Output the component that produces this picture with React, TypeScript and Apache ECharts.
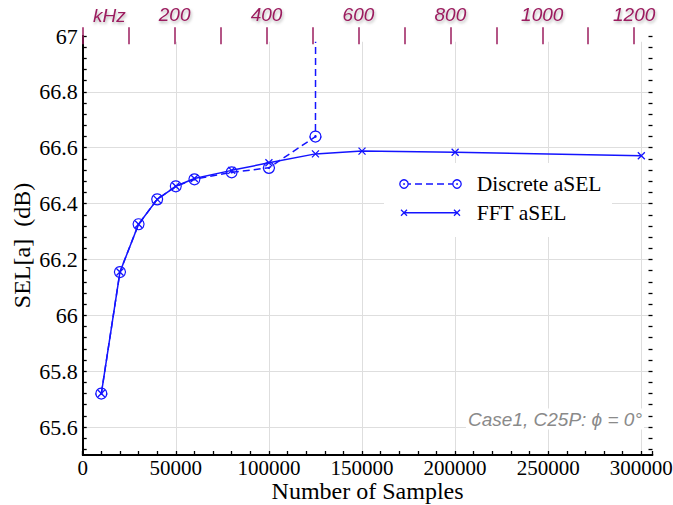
import React, { useEffect, useRef } from "react";
import * as echarts from "echarts";

// ---- data ----
const fftSamples = [10000, 20000, 30000, 40000, 50000, 60000, 80000, 100000, 125000, 150000, 200000, 300000];
const fftSEL = [65.72, 66.155, 66.326, 66.415, 66.462, 66.49, 66.519, 66.546, 66.578, 66.588, 66.584, 66.571];
const discreteSamples = [10000, 20000, 30000, 40000, 50000, 60000, 80000, 100000, 125000, 126000];
const discreteSEL = [65.72, 66.155, 66.326, 66.415, 66.462, 66.487, 66.512, 66.528, 66.64, 72];

const seriesNames = ["Discrete aSEL", "FFT aSEL"];
const xTitle = "Number of Samples";
const yTitle = "SEL[a]  (dB)";
const topUnit = "kHz";
const note = "Case1, C25P: \u03D5 = 0\u00B0";

// axis ranges
const X_MIN = 0;
const X_MAX = 306000;
const X_STEP = 50000;
const X_MINOR = 10000;
const Y_MIN = 65.5;
const Y_MAX = 67;
const Y_LABEL_MIN = 65.6;
const Y_STEP = 0.2;
const Y_TICK_MIN = 65.52;
const Y_TICK_STEP = 0.04;
const KHZ_STEP = 100;
const KHZ_LABEL_STEP = 200;
const KHZ_MAX_SHOWN = 1200;
const SAMPLES_PER_KHZ = 246.8;

// ---- layout ----
const W = 673;
const H = 505;
const G = { left: 82.7, right: 20.5, top: 36, bottom: 50 };
const PX_PER_Y = (H - G.top - G.bottom) / (Y_MAX - Y_MIN);
const PX_PER_X = (W - G.left - G.right) / (X_MAX - X_MIN);
const KHZ_AXIS_MAX = 1300;
const KHZ_GRID_RIGHT = W - G.left - KHZ_AXIS_MAX * SAMPLES_PER_KHZ * PX_PER_X;

const BLUE = "#1414ff";
const MAROON = "#9b1c5e";
const GREY = "#8a8a8a";
const SERIF = "Liberation Serif";
const SANS = "Liberation Sans";

const CIRCLE_DOT = "path://M0,-10A10,10,0,1,1,-0.01,-10Z M0,-1.1A1.1,1.1,0,1,1,-0.01,-1.1Z";
const CROSS = "path://M0,0L10,10M10,0L0,10";

function zip(xs: number[], ys: number[]) {
  return xs.map((x, i) => [x, ys[i]]);
}

function gridBox(extra: Record<string, number>) {
  return { outerBoundsMode: "none", containLabel: false, left: G.left, right: G.right, top: G.top, bottom: G.bottom, ...extra };
}

function buildOption() {
  const legendX1 = 404;
  const legendX2 = 457;
  const row1 = 184;
  const row2 = 212.7;
  const cross = (cx: number, cy: number, s: number) => [
    { type: "line", z: 6, shape: { x1: cx - s, y1: cy - s, x2: cx + s, y2: cy + s }, style: { stroke: BLUE, lineWidth: 1.3 } },
    { type: "line", z: 6, shape: { x1: cx - s, y1: cy + s, x2: cx + s, y2: cy - s }, style: { stroke: BLUE, lineWidth: 1.3 } },
  ];
  const ring = (cx: number, cy: number) => [
    { type: "circle", z: 6, shape: { cx, cy, r: 4.2 }, style: { fill: "#fff", stroke: BLUE, lineWidth: 1.3 } },
    { type: "circle", z: 7, shape: { cx, cy, r: 0.9 }, style: { fill: BLUE } },
  ];

  return {
    animation: false,
    backgroundColor: "#fff",
    textStyle: { fontFamily: SERIF },
    grid: [
      gridBox({}),
      gridBox({ bottom: G.bottom + (Y_LABEL_MIN - Y_MIN) * PX_PER_Y }),
      gridBox({ bottom: G.bottom + (Y_TICK_MIN - Y_MIN) * PX_PER_Y }),
      gridBox({ right: KHZ_GRID_RIGHT, top: 27.3 }),
    ],
    xAxis: [
      {
        gridIndex: 0,
        type: "value",
        position: "bottom",
        min: X_MIN,
        max: X_MAX,
        interval: X_STEP,
        axisLine: { show: true, lineStyle: { color: "#000", width: 1.8 } },
        axisTick: { show: false },
        axisLabel: {
          margin: 2.5,
          color: "#000",
          fontFamily: SERIF,
          fontSize: 21,
          formatter: (v: number) => (v % X_STEP === 0 ? String(v) : ""),
        },
        splitLine: { show: true, showMinLine: false, showMaxLine: false, lineStyle: { color: "#dedede", width: 1 } },
        name: xTitle,
        nameLocation: "middle",
        nameGap: 23.5,
        nameMoveOverlap: false,
        nameTextStyle: { color: "#000", fontFamily: SERIF, fontSize: 24 },
      },
      {
        gridIndex: 0,
        type: "value",
        position: "bottom",
        min: X_MIN,
        max: X_MAX,
        interval: X_MINOR,
        axisLine: { show: false },
        axisTick: { show: true, inside: true, length: 4, lineStyle: { color: "#000", width: 1.3 } },
        axisLabel: { show: false },
        splitLine: { show: false },
      },
      { gridIndex: 1, type: "value", show: false, min: X_MIN, max: X_MAX },
      { gridIndex: 2, type: "value", show: false, min: X_MIN, max: X_MAX },
      {
        gridIndex: 3,
        type: "value",
        position: "top",
        z: 10,
        min: 0,
        max: KHZ_AXIS_MAX,
        interval: KHZ_STEP,
        axisLine: { show: false },
        axisTick: { show: true, inside: true, length: 17, lineStyle: { color: MAROON, width: 1.5 } },
        axisLabel: {
          margin: 3,
          color: MAROON,
          fontFamily: SANS,
          fontStyle: "italic",
          fontSize: 19,
          textShadowColor: "rgba(0,0,0,0.3)",
          textShadowBlur: 3,
          textShadowOffsetX: 1,
          textShadowOffsetY: 2,
          formatter: (v: number) => (v > 0 && v <= KHZ_MAX_SHOWN && v % KHZ_LABEL_STEP === 0 ? String(v) : ""),
        },
        splitLine: { show: false },
      },
    ],
    yAxis: [
      {
        gridIndex: 0,
        type: "value",
        position: "left",
        min: Y_MIN,
        max: Y_MAX,
        axisLine: { show: true, lineStyle: { color: "#000", width: 1.8 } },
        axisTick: { show: false },
        axisLabel: { show: false },
        splitLine: { show: false },
        name: yTitle,
        nameLocation: "middle",
        nameRotate: 90,
        nameGap: 49,
        nameMoveOverlap: false,
        nameTextStyle: { color: "#000", fontFamily: SERIF, fontSize: 24 },
      },
      {
        gridIndex: 0,
        type: "value",
        position: "right",
        min: Y_MIN,
        max: Y_MAX,
        axisLine: { show: true, lineStyle: { color: "#000", width: 1.8 } },
        axisTick: { show: false },
        axisLabel: { show: false },
        splitLine: { show: false },
      },
      {
        gridIndex: 1,
        type: "value",
        position: "left",
        min: Y_LABEL_MIN,
        max: Y_MAX,
        interval: Y_STEP,
        axisLine: { show: false },
        axisTick: { show: false },
        axisLabel: { margin: 5, color: "#000", fontFamily: SERIF, fontSize: 22 },
        splitLine: { show: true, showMaxLine: false, lineStyle: { color: "#dedede", width: 1 } },
      },
      {
        gridIndex: 2,
        type: "value",
        position: "left",
        min: Y_TICK_MIN,
        max: Y_MAX,
        interval: Y_TICK_STEP,
        axisLine: { show: false },
        axisTick: { show: true, inside: true, length: 4, lineStyle: { color: "#000", width: 1.3 } },
        axisLabel: { show: false },
        splitLine: { show: false },
      },
      {
        gridIndex: 2,
        type: "value",
        position: "right",
        min: Y_TICK_MIN,
        max: Y_MAX,
        interval: Y_TICK_STEP,
        axisLine: { show: false },
        axisTick: { show: true, inside: true, length: 4, lineStyle: { color: "#000", width: 1.3 } },
        axisLabel: { show: false },
        splitLine: { show: false },
      },
      { gridIndex: 3, type: "value", show: false, min: Y_MIN, max: Y_MAX },
    ],
    series: [
      {
        name: seriesNames[0],
        type: "line",
        xAxisIndex: 0,
        yAxisIndex: 0,
        data: zip(discreteSamples, discreteSEL),
        clip: true,
        z: 2,
        symbol: CIRCLE_DOT,
        symbolSize: 11,
        symbolKeepAspect: true,
        itemStyle: { color: "rgba(255,255,255,0)", borderColor: BLUE, borderWidth: 1.2 },
        lineStyle: { color: BLUE, width: 1.5, type: [7, 4] },
      },
      {
        name: seriesNames[1],
        type: "line",
        xAxisIndex: 0,
        yAxisIndex: 0,
        data: zip(fftSamples, fftSEL),
        clip: true,
        z: 3,
        symbol: CROSS,
        symbolSize: 7,
        symbolKeepAspect: true,
        itemStyle: { color: "rgba(255,255,255,0)", borderColor: BLUE, borderWidth: 1.3 },
        lineStyle: { color: BLUE, width: 1.5 },
      },
    ],
    graphic: [
      { type: "rect", z: 5, shape: { x: 92.3, y: 28.4, width: 555, height: 13.3 }, style: { fill: "#fff" } },
      {
        type: "line",
        z: 9,
        shape: { x1: 92.3, y1: 27.3, x2: 651.7, y2: 27.3 },
        style: { stroke: MAROON, lineWidth: 1.8, shadowColor: "rgba(0,0,0,0.3)", shadowBlur: 3, shadowOffsetY: 2 },
      },
      {
        type: "text",
        z: 9,
        x: 93,
        y: 15,
        style: {
          text: topUnit,
          fill: MAROON,
          font: `italic 19px ${SANS}`,
          textAlign: "left",
          textVerticalAlign: "middle",
          textShadowColor: "rgba(0,0,0,0.3)",
          textShadowBlur: 3,
          textShadowOffsetX: 1,
          textShadowOffsetY: 2,
        },
      },
      { type: "rect", z: 5, shape: { x: 384, y: 163, width: 228, height: 74 }, style: { fill: "#fff" } },
      { type: "line", z: 6, shape: { x1: legendX1, y1: row1, x2: legendX2, y2: row1 }, style: { stroke: BLUE, lineWidth: 1.5, lineDash: [7, 4] } },
      ...ring(legendX1, row1),
      ...ring(legendX2, row1),
      { type: "line", z: 6, shape: { x1: legendX1, y1: row2, x2: legendX2, y2: row2 }, style: { stroke: BLUE, lineWidth: 1.5 } },
      ...cross(legendX1, row2, 3),
      ...cross(legendX2, row2, 3),
      {
        type: "text",
        z: 6,
        x: 476.7,
        y: row1,
        style: { text: seriesNames[0], fill: "#000", font: `21.5px ${SERIF}`, textAlign: "left", textVerticalAlign: "middle" },
      },
      {
        type: "text",
        z: 6,
        x: 476.7,
        y: row2,
        style: { text: seriesNames[1], fill: "#000", font: `21.5px ${SERIF}`, textAlign: "left", textVerticalAlign: "middle" },
      },
      {
        type: "text",
        z: 6,
        x: 644,
        y: 419,
        style: {
          text: note,
          fill: GREY,
          font: `italic 19px ${SANS}`,
          textAlign: "right",
          textVerticalAlign: "middle",
          backgroundColor: "#fff",
          padding: [1, 2, 1, 2],
        },
      },
    ],
  };
}

export default function App() {
  const ref = useRef<HTMLDivElement>(null);
  useEffect(() => {
    if (!ref.current) return;
    const chart = echarts.init(ref.current, null, { renderer: "svg" });
    chart.setOption(buildOption() as any);
    return () => chart.dispose();
  }, []);
  return <div ref={ref} style={{ position: "fixed", left: 0, top: 0, width: W, height: H, background: "#fff" }} />;
}
